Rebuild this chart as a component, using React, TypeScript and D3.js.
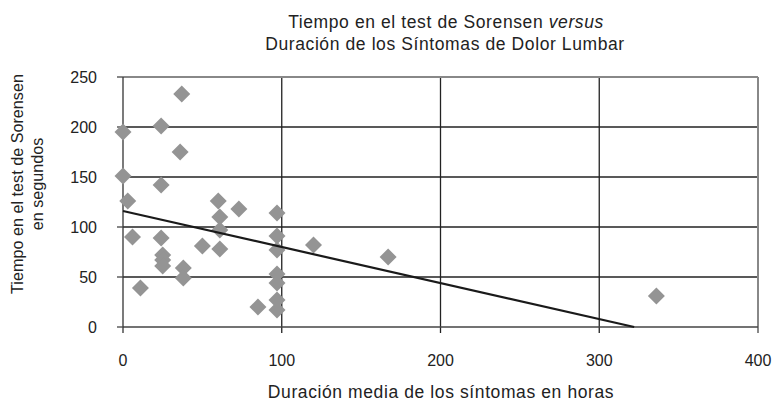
import React from "react";
import * as d3 from "d3";

const durations = [37, 0, 24, 36, 0, 24, 3, 60, 73, 97, 61, 61, 6, 24, 97, 50, 120, 61, 97, 25, 25, 25, 38, 38, 97, 97, 11, 97, 85, 97, 167, 336];
const times = [233, 195, 201, 175, 151, 142, 126, 126, 118, 114, 110, 97, 90, 89, 91, 81, 82, 78, 77, 72, 67, 61, 59, 49, 53, 44, 39, 27, 20, 17, 70, 31];
const trendX = [0, 322];
const trendY = [116, 0];
const xTicks = [0, 100, 200, 300, 400];
const yTicks = [0, 50, 100, 150, 200, 250];

const W = 774;
const H = 405;
const FONT = "'Liberation Sans', Arial, Helvetica, sans-serif";

export default function App() {
  const x = d3.scaleLinear().domain([0, 400]).range([123, 758]);
  const y = d3.scaleLinear().domain([0, 250]).range([327, 77]);
  const line = d3.line<number>().x((d) => x(trendX[d])).y((d) => y(trendY[d]));
  const s = 8.5;
  return (
    <svg width={W} height={H} style={{ position: "absolute", left: 0, top: 0, background: "#fff" }} fontFamily={FONT}>
      <rect x={0} y={0} width={W} height={H} fill="#fff" />
      {/* title */}
      <text x={446} y={28} textAnchor="middle" fontSize={17.5} letterSpacing={0.6} fill="#222">
        Tiempo en el test de Sorensen <tspan fontStyle="italic">versus</tspan>
      </text>
      <text x={445} y={50} textAnchor="middle" fontSize={17.5} letterSpacing={0.6} fill="#222">
        Duración de los Síntomas de Dolor Lumbar
      </text>
      {/* horizontal gridlines */}
      {yTicks.filter((t) => t > 0 && t < 250).map((t) => (
        <line key={"hg" + t} x1={x(0)} x2={x(400)} y1={y(t)} y2={y(t)} stroke="#222" strokeWidth={1.3} />
      ))}
      {/* vertical gridlines */}
      {xTicks.filter((t) => t > 0 && t < 400).map((t) => (
        <line key={"vg" + t} x1={x(t)} x2={x(t)} y1={y(250)} y2={y(0) + 6} stroke="#222" strokeWidth={1.3} />
      ))}
      {/* border top/right */}
      <line x1={x(0)} x2={x(400)} y1={y(250)} y2={y(250)} stroke="#888" strokeWidth={2} />
      <line x1={x(400)} x2={x(400)} y1={y(250)} y2={y(0) + 6} stroke="#888" strokeWidth={2} />
      {/* axes */}
      <line x1={x(0)} x2={x(400)} y1={y(0)} y2={y(0)} stroke="#444" strokeWidth={1.5} />
      <line x1={x(0)} x2={x(0)} y1={y(250)} y2={y(0) + 6} stroke="#333" strokeWidth={1.3} />
      {yTicks.map((t) => (
        <line key={"yt" + t} x1={x(0) - 6} x2={x(0)} y1={y(t)} y2={y(t)} stroke="#444" strokeWidth={1.3} />
      ))}
      {/* tick labels */}
      {yTicks.map((t) => (
        <text key={"yl" + t} x={97} y={y(t) + 6} textAnchor="end" fontSize={16} fill="#222">
          {t}
        </text>
      ))}
      {xTicks.map((t) => (
        <text key={"xl" + t} x={x(t)} y={366} textAnchor="middle" fontSize={16} fill="#222">
          {t}
        </text>
      ))}
      {/* axis labels */}
      <text transform="translate(23,184) rotate(-90)" textAnchor="middle" fontSize={16.2} fill="#222">
        Tiempo en el test de Sorensen
      </text>
      <text transform="translate(43,184) rotate(-90)" textAnchor="middle" fontSize={16.2} fill="#222">
        en segundos
      </text>
      <text x={441} y={398} textAnchor="middle" fontSize={17.5} letterSpacing={0.6} fill="#222">
        Duración media de los síntomas en horas
      </text>
      {/* points */}
      {durations.map((d, i) => {
        const cx = x(d);
        const cy = y(times[i]);
        return (
          <path key={"p" + i} d={`M${cx},${cy - s}L${cx + s},${cy}L${cx},${cy + s}L${cx - s},${cy}Z`} fill="#949494" />
        );
      })}
      {/* trend */}
      <path d={line([0, 1]) || ""} stroke="#1a1a1a" strokeWidth={2.2} fill="none" />
    </svg>
  );
}
